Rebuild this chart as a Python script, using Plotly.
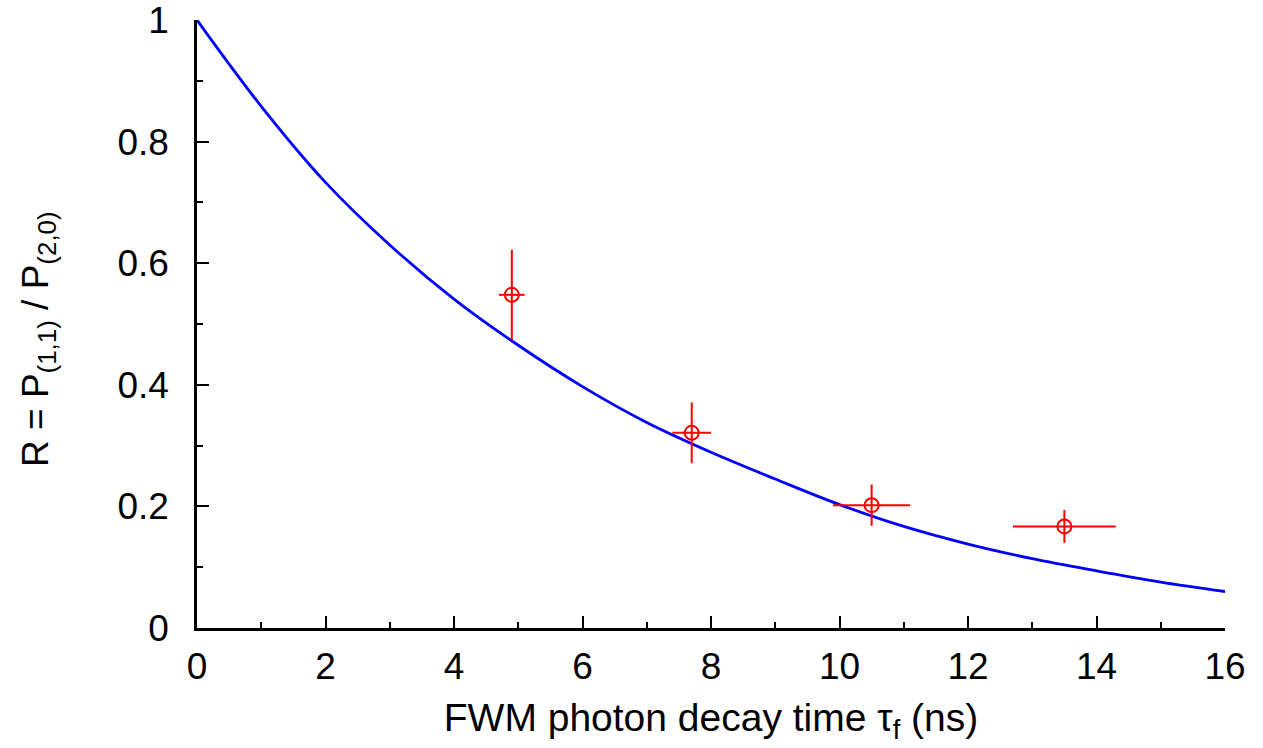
import plotly.graph_objects as go

# Theory curve
curve_x = [0, 1, 2, 3, 4, 5, 6, 7, 8, 9, 10, 11, 12, 13, 14, 15, 16]
curve_y = [1.0, 0.858, 0.733, 0.630, 0.541, 0.465, 0.397, 0.338, 0.289, 0.245, 0.203,
           0.167, 0.138, 0.114, 0.094, 0.0755, 0.060]

# Measured data
data_x = [4.90, 7.70, 10.50, 13.50]
data_y = [0.548, 0.321, 0.202, 0.167]
data_xerr = [0.2, 0.3, 0.6, 0.8]
data_yerr = [0.074, 0.050, 0.034, 0.027]

x_ticks = [0, 2, 4, 6, 8, 10, 12, 14, 16]
y_ticks = [0, 0.2, 0.4, 0.6, 0.8, 1.0]
y_ticktext = ["0", "0.2", "0.4", "0.6", "0.8", "1"]

FONT = "Liberation Sans, Arial, Helvetica, sans-serif"

fig = go.Figure()
fig.add_trace(go.Scatter(
    x=curve_x, y=curve_y, mode="lines",
    line=dict(color="#0000ff", width=2.8, shape="spline", smoothing=1.0),
    showlegend=False, hoverinfo="skip"))
fig.add_trace(go.Scatter(
    x=data_x, y=data_y, mode="markers",
    marker=dict(symbol="circle-open", size=14, color="#ff0000", line=dict(width=2, color="#ff0000")),
    error_x=dict(type="data", array=data_xerr, color="#ff0000", thickness=2, width=0),
    error_y=dict(type="data", array=data_yerr, color="#ff0000", thickness=2, width=0),
    showlegend=False))

# plot area at x 197-1225, y 20-628 (page body margin removed via post_script)
fig.update_layout(
    width=1263, height=748,
    margin=dict(l=197, r=38, t=20, b=120, autoexpand=False),
    paper_bgcolor="white", plot_bgcolor="white",
    font=dict(family=FONT, size=37, color="black"),
    showlegend=False,
)
fig.update_xaxes(
    range=[0, 16], tickvals=x_ticks, ticks="inside", ticklen=12, tickwidth=2, tickcolor="black",
    minor=dict(dtick=1, ticks="inside", ticklen=6, tickwidth=2, tickcolor="black", showgrid=False),
    showline=True, linecolor="black", linewidth=2.5, showgrid=False, zeroline=False,
    tickfont=dict(size=37), ticklabelstandoff=4, ticklabeloverflow="allow", automargin=False,
    title=dict(text="FWM photon decay time τ<sub>f</sub> (ns)", font=dict(size=39), standoff=18),
)
fig.update_yaxes(
    range=[0, 1], tickvals=y_ticks, ticktext=y_ticktext, ticks="inside", ticklen=12, tickwidth=2,
    tickcolor="black",
    minor=dict(dtick=0.1, ticks="inside", ticklen=6, tickwidth=2, tickcolor="black", showgrid=False),
    showline=True, linecolor="black", linewidth=2.5, showgrid=False, zeroline=False,
    tickfont=dict(size=37), ticklabelstandoff=18, ticklabeloverflow="allow", automargin=False,
)
fig.add_annotation(
    text="R = P<sub>(1,1)</sub> / P<sub>(2,0)</sub>", textangle=-90,
    xref="paper", yref="paper", x=-0.1547, y=0.4753, xanchor="center", yanchor="middle",
    showarrow=False, font=dict(size=37, family=FONT, color="black"),
)

fig.write_html("out.html",
               config={"displayModeBar": False},
               post_script="document.body.style.margin='0';document.body.style.overflow='hidden';")
